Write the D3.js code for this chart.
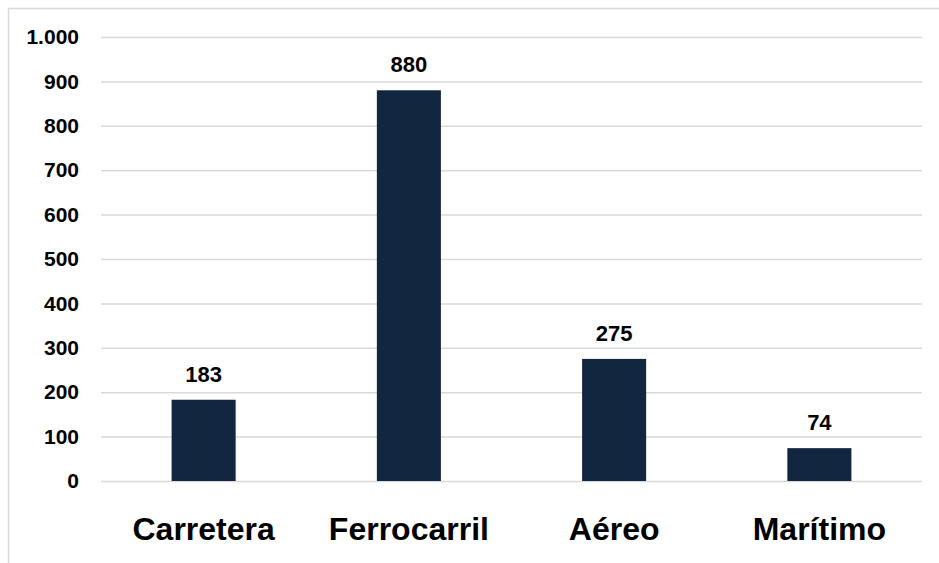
<!DOCTYPE html>
<html>
<head>
<meta charset="utf-8">
<script src="https://cdn.jsdelivr.net/npm/d3@7"></script>
<style>
html,body{margin:0;padding:0;background:#fff;}
svg{display:block;}
text{font-family:"Liberation Sans", Arial, sans-serif;font-weight:bold;fill:#000;}
</style>
</head>
<body>
<svg id="chart" width="939" height="563"></svg>
<script>
const categories = ["Carretera", "Ferrocarril", "Aéreo", "Marítimo"];
const values = [183, 880, 275, 74];
const tickValues = [0, 100, 200, 300, 400, 500, 600, 700, 800, 900, 1000];
const tickLabels = ["0", "100", "200", "300", "400", "500", "600", "700", "800", "900", "1.000"];

const svg = d3.select("#chart");
const W = 939, H = 563;
const m = {left: 101, right: 17, top: 37, bottom: 82};

svg.append("rect").attr("x", 8.5).attr("y", 8.5).attr("width", 940).attr("height", 560)
  .attr("fill", "#fff").attr("stroke", "#d9d9d9").attr("stroke-width", 1.5);

const x = d3.scaleBand().domain(categories).range([m.left, W - m.right]).paddingInner(0.688).paddingOuter(0.344);
const y = d3.scaleLinear().domain([0, 1000]).range([H - m.bottom, m.top]);

const grid = svg.append("g").attr("transform", `translate(${m.left},0)`)
  .call(d3.axisLeft(y).tickValues(tickValues).tickSize(-(W - m.right - m.left)).tickFormat(""));
grid.select(".domain").remove();
grid.selectAll("line").attr("stroke", "#d9d9d9").attr("stroke-width", 1.5);

const yAxis = svg.append("g").attr("transform", `translate(${m.left},0)`)
  .call(d3.axisLeft(y).tickValues(tickValues).tickSize(0).tickPadding(22)
    .tickFormat((d, i) => tickLabels[i]));
yAxis.select(".domain").remove();
yAxis.selectAll("text").style("font-size", "21px").style("font-family", '"Liberation Sans", Arial, sans-serif').style("font-weight", "bold").attr("fill", "#000");

svg.append("g").selectAll("rect").data(values).join("rect")
  .attr("x", (d, i) => x(categories[i]))
  .attr("y", d => y(d))
  .attr("width", x.bandwidth())
  .attr("height", d => y(0) - y(d))
  .attr("fill", "#13263f");

svg.append("g").selectAll("text").data(values).join("text")
  .attr("x", (d, i) => x(categories[i]) + x.bandwidth() / 2)
  .attr("y", d => y(d) - 18)
  .attr("text-anchor", "middle")
  .style("font-size", "22px")
  .text(d => d3.format(",")(d).replace(/,/g, "."));

const xAxis = svg.append("g").attr("transform", `translate(0,${H - m.bottom})`)
  .call(d3.axisBottom(x).tickSize(0).tickPadding(0));
xAxis.select(".domain").remove();
xAxis.selectAll("text").attr("dy", 0).attr("y", 59)
  .style("font-size", "32px").style("font-family", '"Liberation Sans", Arial, sans-serif').style("font-weight", "bold").attr("fill", "#000");
</script>
</body>
</html>
